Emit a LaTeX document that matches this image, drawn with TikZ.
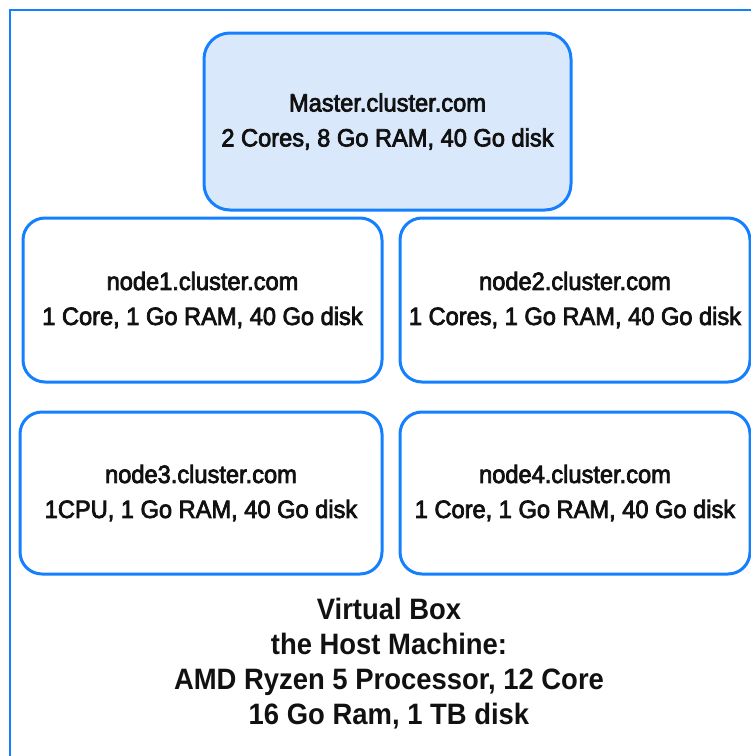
\documentclass[tikz,border=0pt]{standalone}
\usepackage{fontspec}
\setmainfont{Liberation Sans}
\newfontfamily\boxfont[FakeStretch=0.945,FakeBold=3]{Liberation Sans}
\newfontfamily\hostfont[FakeStretch=0.93]{Liberation Sans Bold}
\definecolor{edgeblue}{RGB}{20,128,255}
\definecolor{masterfill}{RGB}{218,232,252}
\definecolor{inktext}{RGB}{17,17,17}

\begin{document}
\begin{tikzpicture}[x=1pt,y=-1pt,
  vm/.style={draw=edgeblue, line width=3pt, rounded corners=22pt, fill=white,
    align=center, inner sep=0pt, text=inktext,
    font=\boxfont\fontsize{25}{35}\selectfont},
  hostlabel/.style={align=center, inner sep=0pt, text=inktext,
    font=\hostfont\fontsize{29.5}{35}\selectfont}
]
\useasboundingbox (0,0) rectangle (751,756);
\clip (0,0) rectangle (751,756);

% host machine frame
\draw[edgeblue, line width=2.5pt] (10,10) rectangle (800,800);

% virtual machines
\node[vm, fill=masterfill, minimum width=367pt, minimum height=177pt, rounded corners=26pt]
  (master) at (387.5,121.5) {Master.cluster.com\\2 Cores, 8 Go RAM, 40 Go disk};
\node[vm, minimum width=359pt, minimum height=164pt] (node1) at (202.5,300)
  {node1.cluster.com\\1 Core, 1 Go RAM, 40 Go disk};
\node[vm, minimum width=350pt, minimum height=164pt] (node2) at (575,300)
  {node2.cluster.com\\1 Cores, 1 Go RAM, 40 Go disk};
\node[vm, minimum width=362pt, minimum height=162pt] (node3) at (201,493)
  {node3.cluster.com\\1CPU, 1 Go RAM, 40 Go disk};
\node[vm, minimum width=350pt, minimum height=162pt] (node4) at (575,493)
  {node4.cluster.com\\1 Core, 1 Go RAM, 40 Go disk};

% host description
\node[hostlabel] (host) at (389,664)
  {Virtual Box\\the Host Machine:\\AMD Ryzen 5 Processor, 12 Core\\16 Go Ram, 1 TB disk};
\end{tikzpicture}
\end{document}
